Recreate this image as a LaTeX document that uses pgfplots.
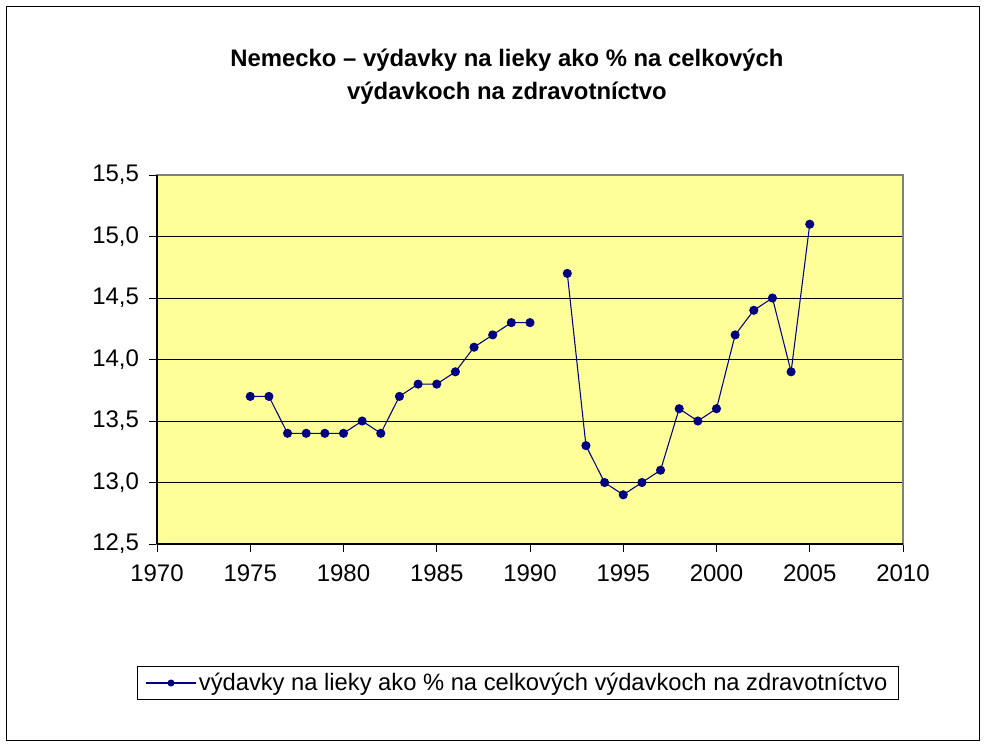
\documentclass[border=0pt]{standalone}
\usepackage{pgfplots}
\pgfplotsset{compat=1.18}
\usepackage{fontspec}
\setmainfont{Liberation Sans}
\definecolor{plotbg}{HTML}{FFFF99}
\definecolor{navy}{HTML}{000080}
\begin{document}
\begin{tikzpicture}[x=0.75pt,y=0.75pt]
\path[use as bounding box] (-157,-203) rectangle (829,544);
\draw[black, line width=0.75pt] (-150,-196) rectangle (822,537);
\node[font=\bfseries\fontsize{17.9}{24.75}\selectfont, align=center] at (350,467.5) {Nemecko – výdavky na lieky ako \% na celkových\\výdavkoch na zdravotníctvo};
\begin{axis}[
  at={(0,0)}, anchor=south west,
  scale only axis, width=559.5pt, height=276.75pt,
  xmin=1970, xmax=2010, ymin=12.5, ymax=15.5,
  xtick={1970,1975,...,2010},
  ytick={12.5,13,...,15.5},
  axis background/.style={fill=plotbg},
  ymajorgrids, grid style={black, line width=0.6pt},
  axis line style={gray, line width=1pt},
  tick align=outside, major tick length=6pt,
  tick style={black, line width=0.6pt},
  xtick pos=bottom, ytick pos=left,
  ticklabel style={font=\fontsize{18}{20}\selectfont},
  yticklabel style={xshift=-4pt},
  xticklabel style={yshift=-6pt},
  /pgf/number format/assume math mode=true,
  yticklabel style={/pgf/number format/.cd, fixed, fixed zerofill, precision=1, use comma},
  xticklabel style={/pgf/number format/.cd, set thousands separator={}},
  unbounded coords=jump,
  clip=false,
  legend style={at={(361/746,-139/369)}, anchor=center, draw=black, line width=0.6pt,
    font=\fontsize{17.8}{19}\selectfont, inner xsep=6pt, inner ysep=3pt},
  legend cell align=left,
  legend image code/.code={\draw[mark repeat=2,mark phase=2,#1, mark size=2.2pt] plot coordinates {(0pt,0pt) (18.5pt,0pt) (37pt,0pt)};},
]
\addplot[navy, line width=0.8pt, mark=*, mark size=3pt, mark options={fill=navy, draw=navy}] coordinates {
(1975,13.7) (1976,13.7) (1977,13.4) (1978,13.4) (1979,13.4) (1980,13.4)
(1981,13.5) (1982,13.4) (1983,13.7) (1984,13.8) (1985,13.8) (1986,13.9)
(1987,14.1) (1988,14.2) (1989,14.3) (1990,14.3) (1991,nan)
(1992,14.7) (1993,13.3) (1994,13.0) (1995,12.9) (1996,13.0) (1997,13.1)
(1998,13.6) (1999,13.5) (2000,13.6) (2001,14.2) (2002,14.4) (2003,14.5)
(2004,13.9) (2005,15.1)
};
\addlegendentry{výdavky na lieky ako \% na celkových výdavkoch na zdravotníctvo}
\draw[black, line width=1pt] (axis cs:1970,12.5) -- (axis cs:2010,12.5);
\draw[black, line width=1pt] (axis cs:1970,12.5) -- (axis cs:1970,15.5);
\end{axis}
\end{tikzpicture}
\end{document}
